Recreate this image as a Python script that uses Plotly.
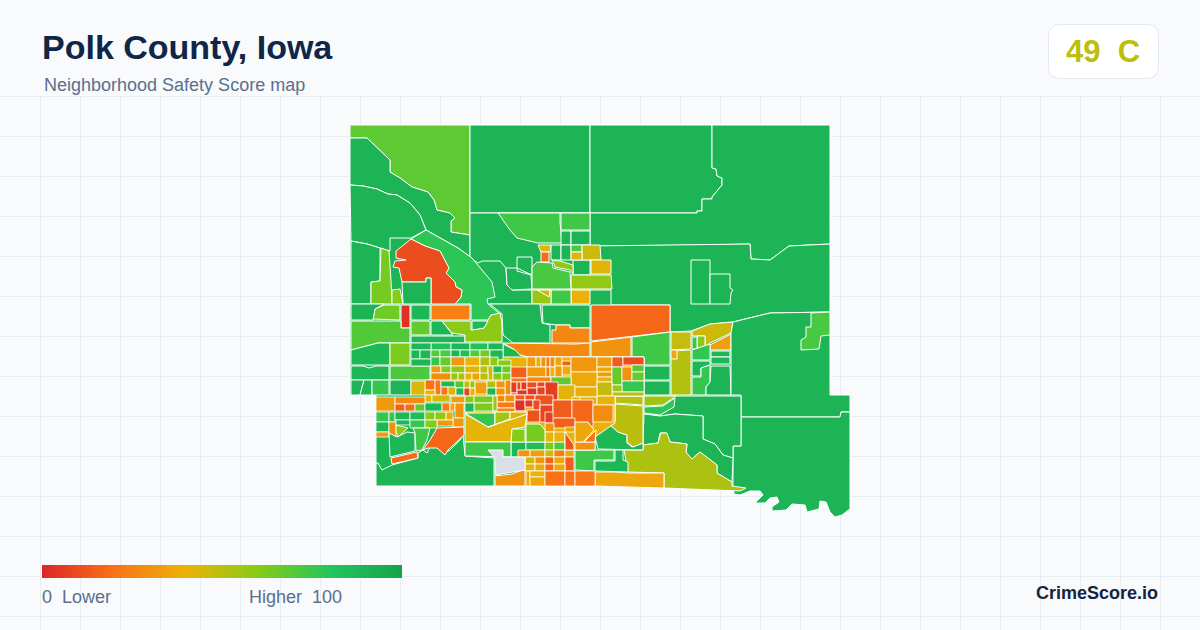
import plotly.graph_objects as go
from plotly.colors import sample_colorscale

COUNTY = "Polk County, Iowa"
SUBTITLE = "Neighborhood Safety Score map"
COUNTY_SCORE = 49
COUNTY_GRADE = "C"
BRAND = "CrimeScore.io"
SCORE_STOPS = [0, 20, 40, 60, 80, 100]
STOP_COLORS = ["#dc2626", "#f97316", "#eab308", "#84cc16", "#22c55e", "#16a34a"]
NO_DATA = "#d9dfe6"

# Map geometry: (score, outline), in map grid units.
COUNTY_BASE = [
    (90, [(350,125),(830,125),(830,395),(850,395),(850,509),(842,515),(835,517),(830,512),(826,502),(820,501),(819,509),
          (807,512),(805,505),(792,504),(786,510),(772,511),(772,507),(779,502),(777,497),(770,498),(765,503),(755,503),
          (763,495),(760,491),(750,491),(740,495),(734,494),(734,491),(660,488),(594,486),(494,486),(376,486),(376,395),(350,395)]),
]
RURAL_TRACTS = [
    (68, [(350,125),(470,125),(470,235),(451,232),(451,221),(455,218),(450,213),(437,210),(434,200),(428,192),(412,187),(400,178),(390,172),(390,160),(367,138),(350,138)]),
    (90, [(350,138),(367,138),(390,160),(390,172),(400,178),(412,187),(428,192),(434,200),(437,210),(450,213),(455,218),(451,221),(451,232),(470,235),(470,257),(458,248),(426,230),(420,215),(410,203),(397,195),(388,194),(377,189),(363,186),(350,185)]),
    (90, [(350,185),(363,186),(377,189),(388,194),(397,195),(410,203),(420,215),(426,230),(411,238),(390,238),(390,251),(380,248),(367,244),(351,241)]),
    (90, [(470,125),(590,125),(590,213),(470,213)]),
    (90, [(590,125),(712,125),(712,168),(716,169),(717,176),(722,178),(722,185),(712,197),(712,199),(702,199),(702,211),(697,211),(697,213),(590,213)]),
    (90, [(470,213),(590,213),(590,290),(470,290)]),
    (90, [(590,213),(697,213),(697,211),(702,211),(702,199),(712,199),(712,197),(722,185),(722,178),(717,176),(716,169),(712,168),(712,125),(830,125),(830,244),(789,246),(770,260),(751,259),(750,244),(705,245),(590,246)]),
    (90, [(590,246),(705,245),(750,244),(751,259),(770,260),(789,246),(830,244),(830,312),(770,313),(733,322),(710,324),(691,331),(670,332),(670,305),(611,305),(611,290),(590,290)]),
    (90, [(691,260),(710,260),(710,304),(691,304)]),
    (90, [(710,274),(730,274),(730,288),(733,290),(731,293),(730,304),(710,304)]),
    (74, [(498,213),(560,213),(560,222),(562,243),(538,243),(517,238),(510,230)]),
    (74, [(561,213),(590,213),(590,230),(561,230)]),
    (90, [(478,263),(482,261),(500,261),(506,268),(507,285),(512,290),(532,290),(532,304),(470,304),(470,258)]),
    (90, [(506,268),(517,268),(517,271),(531,275),(532,289),(512,290),(507,285)]),
    (90, [(517,257),(532,257),(532,275),(517,268)]),
    (90, [(561,231),(571,231),(571,245),(561,245)]),
    (90, [(571,231),(590,231),(590,245),(571,245)]),
    (90, [(551,245),(561,245),(561,260),(551,260)]),
    (90, [(561,245),(571,245),(571,260),(561,260)]),
    (90, [(573,260),(590,260),(590,275),(573,275)]),
    (72, [(571,245),(582,245),(582,252),(571,252)]),
    (46, [(582,245),(600,245),(601,260),(582,260)]),
    (43, [(571,252),(582,252),(582,260),(571,260)]),
    (42, [(591,260),(611,260),(611,274),(591,274)]),
    (57, [(571,275),(611,275),(612,289),(571,289)]),
    (39, [(571,290),(590,290),(590,304),(571,304)]),
    (74, [(551,290),(571,290),(571,304),(551,304)]),
    (56, [(532,290),(551,290),(551,304),(532,304)]),
    (45, [(537,290),(550,290),(549,297)]),
    (72, [(532,267),(537,262),(552,263),(553,268),(570,272),(571,289),(532,289)]),
    (58, [(552,260),(560,261),(573,265),(573,274),(570,270),(555,267)]),
    (42, [(538,245),(551,245),(550,252),(541,252)]),
    (18, [(541,252),(549,252),(549,262),(541,262)]),
    (78, [(426,230),(458,248),(472,258),(482,270),(492,282),(495,297),(487,299),(488,304),(500,314),(491,315),(488,320),(471,320),(471,304),(455,304),(461,297),(462,290),(456,287),(455,282),(446,273),(449,268),(446,263),(440,251),(425,246),(411,239)]),
    (10, [(411,239),(425,246),(440,251),(446,263),(449,268),(446,273),(455,282),(456,287),(462,290),(461,297),(455,304),(431,304),(431,278),(426,278),(426,282),(402,282),(399,268),(393,267),(395,261),(406,260),(396,258),(396,251)]),
    (90, [(402,282),(426,282),(426,278),(431,278),(431,304),(403,304)]),
    (90, [(351,241),(367,244),(380,248),(380,281),(371,282),(371,304),(351,304)]),
    (63, [(381,248),(389,251),(391,281),(392,304),(371,304),(371,282),(380,281)]),
    (60, [(392,290),(400,289),(403,304),(392,304)]),
    (64, [(373,319),(375,309),(384,305),(400,305),(400,320)]),
    (90, [(351,304),(384,304),(375,309),(373,320),(351,320)]),
    (3,  [(401,305),(410,305),(410,328),(401,328)]),
    (70, [(351,321),(401,321),(401,328),(410,328),(410,343),(378,343),(351,350)]),
    (87, [(351,350),(378,343),(390,343),(390,365),(351,365)]),
    (62, [(390,343),(410,343),(410,365),(390,365)]),
    (88, [(351,366),(363,366),(369,368),(376,366),(389,366),(389,380),(351,380)]),
    (71, [(390,366),(430,366),(430,380),(390,380)]),
    (90, [(351,380),(364,380),(360,395),(351,395)]),
    (88, [(364,380),(372,380),(372,395),(360,395)]),
    (76, [(372,380),(389,380),(389,395),(372,395)]),
    (90, [(390,380),(411,380),(411,395),(390,395)]),
    (88, [(411,305),(430,305),(430,320),(411,320)]),
    (66, [(411,321),(430,321),(430,335),(411,335)]),
    (88, [(411,336),(465,336),(465,343),(411,343)]),
    (24, [(431,305),(470,305),(470,320),(431,320)]),
    (88, [(431,321),(442,321),(449,330),(453,335),(431,335)]),
    (58, [(442,321),(471,321),(471,330),(484,328),(488,320),(491,315),(500,313),(502,323),(502,342),(465,342),(465,335),(452,333)]),
    (87, [(472,321),(488,321),(484,328),(472,330)]),
    (90, [(490,304),(540,304),(542,323),(550,325),(550,343),(513,343),(503,335),(502,314)]),
    (90, [(542,305),(590,305),(590,328),(570,328),(570,325),(556,325),(543,323)]),
    (26, [(556,325),(570,325),(570,328),(590,328),(590,343),(552,343),(552,330),(556,330)]),
    (17, [(591,305),(670,305),(670,332),(591,341)]),
    (30, [(591,342),(631,337),(631,357),(591,357)]),
    (74, [(632,337),(670,332),(670,365),(644,365),(644,357),(632,357)]),
    (89, [(644,366),(670,366),(670,380),(644,380)]),
    (90, [(644,381),(670,381),(670,395),(644,395)]),
    (27, [(503,343),(550,344),(575,344),(590,343),(590,357),(527,357),(520,355),(515,350)]),
    (88, [(503,344),(515,350),(520,355),(527,357),(527,367),(511,367),(511,364),(503,360)]),
]
EAST_TRACTS = [
    (47, [(671,332),(691,332),(691,349),(671,350)]),
    (51, [(671,351),(691,350),(691,395),(671,395)]),
    (36, [(671,350),(677,350),(677,359),(671,359)]),
    (46, [(692,331),(710,324),(733,322),(731,333),(710,343),(705,347),(705,336),(692,336)]),
    (60, [(697,336),(705,336),(705,347),(697,348)]),
    (76, [(692,337),(697,337),(697,349),(692,349)]),
    (34, [(710,345),(731,334),(731,350),(710,350)]),
    (77, [(692,350),(710,344),(710,360),(692,360)]),
    (88, [(711,351),(730,351),(730,357),(711,357)]),
    (88, [(711,357),(730,357),(730,364),(711,364)]),
    (88, [(692,361),(710,361),(710,365),(701,368),(701,376),(692,376)]),
    (76, [(692,377),(701,377),(701,368),(710,365),(710,382),(706,387),(706,395),(692,395)]),
    (90, [(711,366),(730,366),(731,395),(706,395),(706,387),(710,382)]),
    (90, [(733,322),(770,313),(830,312),(830,395),(850,395),(850,412),(841,412),(840,417),(741,417),(741,395),(731,395),(731,333)]),
    (72, [(811,313),(830,312),(830,335),(821,336),(819,349),(801,350),(801,340),(806,337),(806,327),(811,327)]),
    (90, [(741,417),(840,417),(841,412),(850,412),(850,509),(842,515),(835,517),(830,512),(826,502),(820,501),(819,509),(807,512),(805,505),(792,504),(786,510),(772,511),(772,507),(779,502),(777,497),(770,498),(765,503),(755,503),(763,495),(760,491),(750,491),(740,495),(734,494),(733,486),(733,446),(741,446)]),
    (90, [(644,396),(741,396),(741,446),(733,446),(733,458),(723,455),(715,444),(703,439),(703,416),(675,414),(660,416),(644,414)]),
    (90, [(644,414),(660,416),(675,414),(703,416),(703,439),(715,444),(723,455),(733,458),(732,482),(717,473),(717,465),(700,452),(692,459),(686,454),(687,444),(670,442),(666,433),(660,433),(658,443),(643,445)]),
    (52, [(624,450),(643,450),(643,445),(658,443),(661,433),(667,433),(670,442),(687,444),(686,452),(692,459),(700,452),(717,465),(717,473),(732,482),(732,486),(746,488),(740,491),(708,490),(664,488),(664,473),(628,472)]),
    (88, [(595,437),(608,423),(618,432),(627,435),(627,443),(632,447),(643,443),(643,450),(598,449)]),
    (49, [(615,404),(643,406),(643,443),(633,447),(627,442),(627,435),(618,432),(608,423),(615,421)]),
    (50, [(615,396),(643,396),(643,405),(615,403)]),
    (55, [(644,396),(676,396),(663,405),(644,406)]),
    (78, [(644,407),(663,406),(675,398),(674,407),(660,415),(644,413)]),
    (36, [(595,472),(615,472),(628,473),(664,473),(664,488),(595,486)]),
    (88, [(595,461),(615,461),(615,450),(623,450),(623,460),(628,462),(628,472),(595,471)]),
    (74, [(575,450),(614,450),(614,460),(594,460),(594,471),(575,470)]),
]
SOUTHWEST_TRACTS = [
    (90, [(376,486),(494,486),(494,458),(465,456),(463,435),(460,440),(450,450),(445,453),(438,447),(430,447),(427,453),(423,450),(418,453),(418,458),(392,465),(382,470),(378,463),(376,463)]),
    (18, [(391,458),(417,452),(418,458),(392,464)]),
    (17, [(430,440),(437,428),(464,427),(464,435),(448,450),(445,455),(437,448),(428,448),(423,450)]),
    (88, [(389,433),(397,437),(407,432),(415,433),(415,451),(390,457)]),
    (74, [(413,428),(430,428),(427,440),(422,450),(416,451),(415,433)]),
    (58, [(396,425),(408,428),(398,437),(396,432)]),
    (41, [(465,414),(488,427),(527,414),(525,427),(512,429),(511,442),(465,442)]),
    (76, [(465,413),(495,413),(495,425),(488,427)]),
    (54, [(495,412),(510,412),(510,419),(488,427),(495,425)]),
    (42, [(510,412),(527,412),(527,414),(510,420)]),
    (60, [(512,429),(525,429),(525,442),(511,442)]),
    (63, [(526,424),(540,424),(545,430),(545,442),(526,442)]),
    (74, [(465,442),(511,442),(511,457),(465,456)]),
    (30, [(495,476),(512,474),(525,469),(525,486),(495,486)]),
    (12, [(565,432),(574,445),(574,450),(565,450)]),
    (36, [(575,422),(588,422),(594,430),(583,442),(575,442)]),
    (20, [(584,442),(596,430),(595,442)]),
]
# Under-tint of the dense core, then city blocks: (west, north, east, south, score)
CITY_CORE = [(40, [(431,357),(644,357),(644,396),(615,396),(615,423),(595,437),(595,450),(526,450),(526,414),(465,414),(465,396),(431,396)])]
CITY_BLOCKS = [
    (431,343,451,350,82),(451,343,470,350,88),(470,343,488,350,82),(488,343,503,350,88),
    (411,343,431,350,88),(411,350,420,359,88),(420,350,431,359,88),(411,359,431,366,88),
    (431,350,440,357,70),(440,350,451,357,72),(451,350,460,357,90),(460,350,470,357,85),(470,350,480,357,70),(480,350,490,357,64),(490,350,503,360,88),
    (431,357,440,366,76),(440,357,451,366,66),(451,357,465,366,32),(465,357,480,366,40),(480,357,490,366,52),(490,357,498,366,58),(498,360,511,366,60),
    (431,366,441,373,32),(441,366,451,373,60),(451,366,465,373,56),(465,366,480,373,42),(480,366,488,380,50),(488,366,493,380,46),(493,366,502,373,85),(502,366,511,373,64),
    (431,373,451,380,28),(451,373,458,380,58),(458,373,465,380,52),(465,373,472,380,40),(472,373,480,380,35),(480,373,488,380,50),(493,373,502,380,60),(502,373,511,381,60),
    (511,367,527,378,15),(511,378,527,382,20),
    (527,357,536,367,33),(536,357,541,367,38),(541,357,546,367,30),(546,357,550,367,22),(550,357,555,367,28),(555,357,562,366,36),(562,361,571,366,15),(562,366,571,375,38),
    (527,367,546,377,33),(546,367,550,377,22),(550,367,555,377,40),(555,366,562,377,33),
    (571,357,597,372,32),(597,357,612,367,33),(612,357,623,367,14),(623,357,644,365,10),
    (597,367,612,372,37),(597,372,612,377,33),(597,377,612,382,40),(612,367,622,385,66),(622,367,632,381,30),(632,365,644,372,70),(632,372,644,381,66),(622,381,644,392,76),(612,385,622,392,55),(612,392,644,396,50),
    (571,372,597,387,37),(597,382,612,396,48),
    (527,377,551,382,26),(551,377,571,385,68),
    (505,380,511,395,28),(511,382,517,393,6),(517,382,521,390,8),(521,382,527,390,5),(527,382,537,388,10),(537,382,545,387,8),(545,382,558,400,6),(527,388,537,395,4),(537,387,545,395,7),(517,390,527,395,4),(511,393,517,395,6),
    (558,385,575,400,41),(575,387,597,397,38),(580,397,597,405,42),(572,397,580,400,38),(597,396,615,405,40),
    (497,395,505,402,26),(505,395,515,402,30),(515,395,525,400,14),(525,395,535,400,12),(535,395,553,405,12),(497,402,515,408,22),(515,400,525,411,3),(525,400,533,407,5),(533,400,540,410,10),
    (495,408,515,412,26),(515,411,527,414,20),(527,410,540,422,12),(540,405,553,422,8),(545,412,555,423,7),(553,400,572,418,14),(572,400,593,427,17),(553,418,575,428,15),(593,405,613,422,28),
    (425,380,435,390,20),(435,380,441,395,22),(441,381,455,387,88),(455,381,464,388,70),(464,381,470,388,50),(470,381,475,388,60),(475,382,487,394,33),(487,381,496,388,52),(487,388,496,395,88),(496,381,505,388,30),(496,388,505,395,30),
    (441,387,448,396,20),(448,387,456,396,42),(456,388,464,396,88),(464,388,470,396,8),(470,388,475,396,40),
    (451,396,465,403,33),(465,396,474,403,60),(474,396,493,403,62),(474,403,493,411,62),(465,403,474,412,88),(493,396,497,411,56),(493,411,495,413,40),
    (411,381,425,395,43),(425,390,435,395,40),(425,395,432,402,40),(432,395,450,402,44),(450,395,465,396,40),
    (376,397,395,411,32),(395,397,425,404,27),(395,404,405,411,15),(405,404,415,411,18),(415,404,425,411,68),(425,403,442,411,88),(442,403,450,411,22),(450,403,455,411,36),(455,403,464,418,30),
    (376,412,389,422,76),(389,412,395,422,76),(395,412,410,420,88),(410,412,425,420,85),(425,412,435,420,60),(435,412,446,420,58),(446,412,453,420,38),(453,418,464,427,32),(437,420,453,426,32),
    (376,422,389,432,88),(376,432,389,437,32),(389,422,396,437,28),(396,420,410,425,88),(410,420,425,428,76),(425,420,437,428,60),
    (511,442,526,457,88),(526,442,545,450,85),(545,442,554,450,62),(554,442,565,450,72),(518,450,530,457,30),(530,450,545,457,34),(545,450,554,457,46),(554,450,565,457,24),(565,450,574,457,37),
    (525,457,535,464,45),(535,457,545,464,30),(545,457,554,464,16),(554,457,565,464,36),(565,457,574,471,14),
    (525,464,535,471,40),(535,464,545,471,37),(545,464,554,471,17),(554,464,565,471,36),
    (526,471,530,486,38),(530,471,545,477,40),(530,477,545,486,36),(545,471,565,486,20),(565,471,575,486,20),(575,471,595,486,22),
    (545,423,554,432,32),(545,432,554,442,40),(554,432,565,442,40),(565,427,575,432,36),(575,442,595,450,30),
]
GRAY_TRACT = [(488,450),(503,450),(503,457),(525,457),(525,470),(512,472),(495,475),(495,458)]
GRID_STEP = 40
LEGEND_Z = list(range(0, 101))

COLORSCALE = [[s / 100, c] for s, c in zip(SCORE_STOPS, STOP_COLORS)]


def score_color(score):
    return sample_colorscale(COLORSCALE, score / 100, colortype="rgb")[0]


fig = go.Figure()


def add_tract(outline, color, score, width=1.0):
    xs = [p[0] for p in outline] + [outline[0][0]]
    ys = [p[1] for p in outline] + [outline[0][1]]
    fig.add_trace(go.Scatter(x=xs, y=ys, mode="lines", fill="toself", fillcolor=color,
                             line=dict(color="#ffffff", width=width), showlegend=False,
                             hoverinfo="text", text=f"Score {score}"))


for group in (COUNTY_BASE, RURAL_TRACTS, EAST_TRACTS, CITY_CORE):
    for score, outline in group:
        add_tract(outline, score_color(score), score)
for w, n, e, s, score in CITY_BLOCKS:
    add_tract([(w, n), (e, n), (e, s), (w, s)], score_color(score), score, 0.8)
for score, outline in SOUTHWEST_TRACTS:
    add_tract(outline, score_color(score), score)
add_tract(GRAY_TRACT, NO_DATA, "n/a")

fig.add_trace(go.Heatmap(z=[LEGEND_Z], x=LEGEND_Z, y=[0], xaxis="x2", yaxis="y2", zmin=0, zmax=100,
                         colorscale=COLORSCALE, showscale=False, zsmooth="best", hoverinfo="skip"))

grid_path = "".join(f"M{x+0.5},96.5L{x+0.5},630" for x in range(GRID_STEP, 1200, GRID_STEP))
grid_path += "".join(f"M0,{y+0.5}L1200,{y+0.5}" for y in range(96, 630, GRID_STEP))
shapes = [
    dict(type="path", path=grid_path, xref="x", yref="y", line=dict(color="#e8edf3", width=1), layer="below"),
    dict(type="path", xref="x", yref="y", layer="above", fillcolor="#ffffff", line=dict(color="#e2e8f0", width=1),
         path="M1060.5,24.5L1146.5,24.5Q1158.5,24.5 1158.5,36.5L1158.5,66.5Q1158.5,78.5 1146.5,78.5L1060.5,78.5Q1048.5,78.5 1048.5,66.5L1048.5,36.5Q1048.5,24.5 1060.5,24.5Z"),
]


def label(text, x, y, size, color, bold=False, anchor="left"):
    return dict(text=f"<b>{text}</b>" if bold else text, x=x, y=y, xref="x", yref="y", showarrow=False,
                xanchor=anchor, yanchor="middle", font=dict(family="Liberation Sans", size=size, color=color))


annotations = [
    label(COUNTY, 40, 47, 34, "#0f2747", True),
    label(SUBTITLE, 42, 85, 18, "#5a6f8e"),
    label(f"{COUNTY_SCORE}&nbsp;&nbsp;{COUNTY_GRADE}", 1102.5, 51, 31, score_color(COUNTY_SCORE), True, "center"),
    label("0&nbsp;&nbsp;Lower", 40, 597, 18, "#5a6f8e"),
    label("Higher&nbsp;&nbsp;100", 344, 597, 18, "#5a6f8e", anchor="right"),
    label(BRAND, 1160, 593, 18, "#14233f", True, "right"),
]

fig.update_layout(
    width=1200, height=630, margin=dict(l=0, r=0, t=0, b=0), paper_bgcolor="#f8fafc", plot_bgcolor="rgba(0,0,0,0)",
    xaxis=dict(range=[0, 1200], domain=[0, 1], visible=False, fixedrange=True),
    yaxis=dict(range=[630, 0], domain=[0, 1], visible=False, fixedrange=True),
    xaxis2=dict(range=[0, 100], domain=[42 / 1200, 402 / 1200], visible=False, anchor="y2", fixedrange=True),
    yaxis2=dict(range=[-0.5, 0.5], domain=[52 / 630, 65 / 630], visible=False, anchor="x2", fixedrange=True),
    shapes=shapes, annotations=annotations, hovermode="closest",
)
fig.write_html("out.html", post_script="document.body.style.margin='0';document.body.style.overflow='hidden';",
               config={"displayModeBar": False})
